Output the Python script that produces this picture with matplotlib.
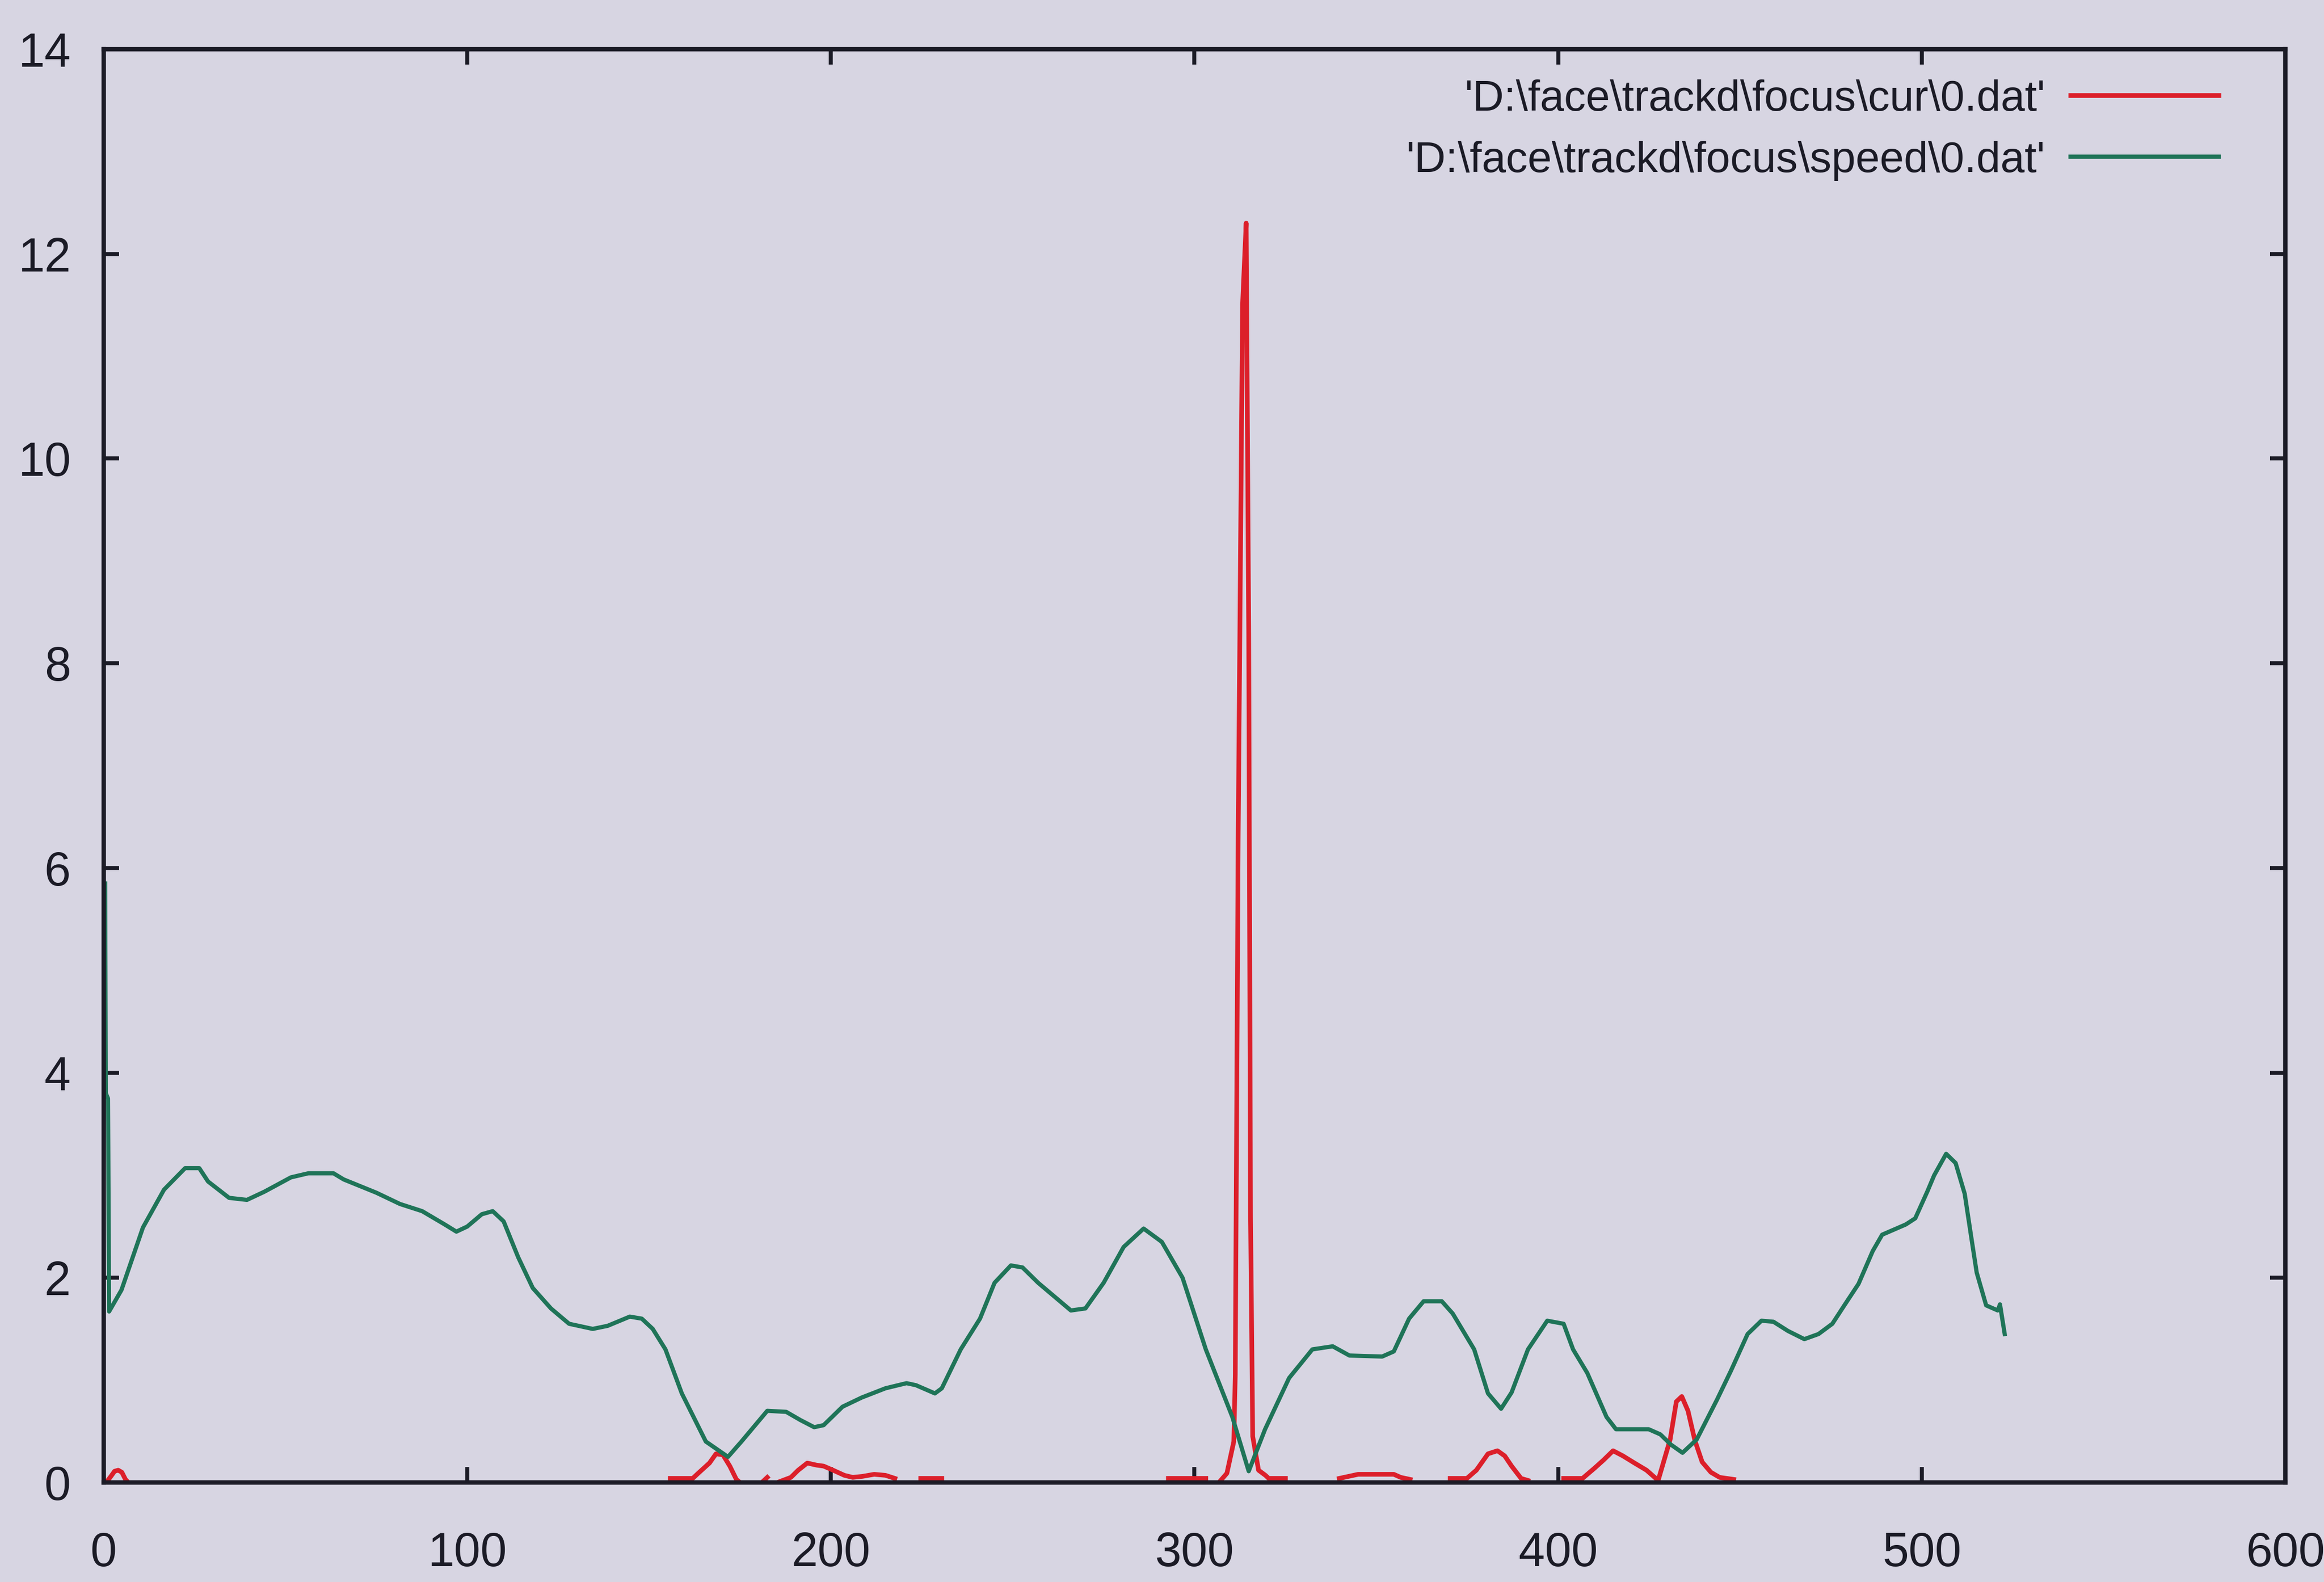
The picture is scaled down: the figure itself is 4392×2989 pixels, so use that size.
import numpy as np
import matplotlib
matplotlib.use("Agg")
import matplotlib.pyplot as plt

# ---- data ----
speed_x = [0.4, 0.6, 1.2, 1.5, 4.9, 10.8, 16.6, 22.4, 26.3, 28.7, 34.5, 39.4, 44.2, 51.5, 56.3,
           63.2, 66, 75, 81.5, 87.6, 93.8, 97, 100, 104, 107, 110, 114, 118, 123, 128, 134.5,
           138.6, 144.7, 148, 151, 154.5, 159, 165.6, 171.7, 175.4, 182.5, 187.7, 191.6, 195.4,
           198, 203.2, 208.5, 215, 220.8, 223.4, 228.6, 230.5, 235.7, 241, 245, 249.5, 252.7,
           257, 262, 266, 270, 275, 280.5, 286, 291, 296.7, 303.1, 310.4, 314.9, 319.4, 326,
           332.4, 338, 342.6, 351.6, 354.8, 359, 363, 368, 371, 376.9, 380.7, 384.3, 387.2,
           391.7, 397, 401.5, 404.1, 408, 413.3, 415.9, 424.9, 428.1, 431, 434.2, 438.1, 443.7,
           447.5, 452.1, 455.9, 459.2, 463.2, 467.7, 471.6, 475.4, 478.7, 482.6, 486.5, 489.1,
           495.6, 498.2, 501.5, 503.4, 506.7, 509.3, 511.8, 513.5, 515.1, 517.7, 520.9, 521.5,
           522.8]
speed_y = [5.85, 3.8, 3.75, 1.67, 1.88, 2.49, 2.86, 3.07, 3.07, 2.94, 2.78, 2.76, 2.84, 2.98, 3.02,
           3.02, 2.96, 2.83, 2.72, 2.65, 2.52, 2.45, 2.5, 2.62, 2.65, 2.55, 2.2, 1.9, 1.7, 1.55, 1.5,
           1.53, 1.62, 1.6, 1.5, 1.30, 0.87, 0.40, 0.25, 0.40, 0.70, 0.69, 0.61, 0.54,
           0.56, 0.74, 0.83, 0.92, 0.97, 0.95, 0.87, 0.92, 1.30, 1.6, 1.95, 2.12, 2.1,
           1.95, 1.8, 1.68, 1.7, 1.95, 2.3, 2.48, 2.35, 2.0, 1.30, 0.64, 0.11, 0.52, 1.02,
           1.30, 1.33, 1.24, 1.23, 1.28, 1.6, 1.77, 1.77, 1.65, 1.30, 0.87, 0.72, 0.88,
           1.30, 1.58, 1.55, 1.30, 1.07, 0.64, 0.52, 0.52, 0.47, 0.37, 0.29, 0.42, 0.81,
           1.09, 1.45, 1.58, 1.57, 1.48, 1.40, 1.45, 1.55, 1.73, 1.94, 2.26, 2.42,
           2.52, 2.58, 2.84, 3.0, 3.21, 3.12, 2.82, 2.42, 2.05, 1.73, 1.68, 1.74,
           1.45]

nan = float("nan")
cur_x = [0.7, 2, 3, 4, 5, 6, 6.8, nan,
         155.8, 162, 163.5, 166.6, 168.4, 170.3, 172.2, 174, 175, nan,
         181, 182.5, nan,
         186, 189, 191, 193.5, 196, 198, 200.6, 203.7, 206, 208.7, 211.9, 215, 217.6, nan,
         224.7, 230.5, nan,
         292.8, 303.1, nan,
         306.7, 308.9, 310.8, 311.2, 312.0, 313.2, 314.2, 314.9, 315.4, 316.0, 317.6, 319.5,
         320.4, 325, nan,
         339.8, 343.7, 345, 354.8, 356.7, 359.3, nan,
         370.3, 374.9, 377.5, 380.7, 383.3, 385.3, 387.2, 389.8, 391.7, nan,
         401.5, 406.7, 410, 412.5, 415.1, 417.8, 421, 424.3, 427.5, 430.8, 432.5, 434, 435.7,
         437.6, 439.6, 442, 444.4, 448.3]
cur_y = [0, 0.06, 0.11, 0.12, 0.1, 0.03, 0, nan,
         0.04, 0.04, 0.09, 0.19, 0.28, 0.27, 0.16, 0.03, 0, nan,
         0.0, 0.05, nan,
         0.01, 0.05, 0.12, 0.19, 0.17, 0.16, 0.12, 0.07, 0.05, 0.06, 0.08, 0.07, 0.04, nan,
         0.04, 0.04, nan,
         0.04, 0.04, nan,
         0, 0.09, 0.4, 1.05, 6.3, 11.5, 12.3, 8.3, 2.6, 0.45, 0.12, 0.07,
         0.04, 0.04, nan,
         0.04, 0.07, 0.08, 0.08, 0.05, 0.03, nan,
         0.04, 0.04, 0.12, 0.28, 0.31, 0.26, 0.16, 0.04, 0.02, nan,
         0.04, 0.04, 0.14, 0.22, 0.31, 0.26, 0.19, 0.12, 0.02, 0.42, 0.79, 0.84, 0.7,
         0.41, 0.2, 0.1, 0.05, 0.03]

x_ticks = [0, 100, 200, 300, 400, 500, 600]
y_ticks = [0, 2, 4, 6, 8, 10, 12, 14]
label_cur = r"'D:\face\trackd\focus\cur\0.dat'"
label_speed = r"'D:\face\trackd\focus\speed\0.dat'"

# ---- style ----
BG = "#d7d5e2"
INK = "#1b1b26"
RED = "#dc1f2a"
GREEN = "#1f7458"

plt.rcParams["font.family"] = ["Liberation Sans", "DejaVu Sans"]

fig = plt.figure(figsize=(4392 / 300, 2989 / 300), dpi=300, facecolor=BG)
ax = fig.add_axes([0.0446, 0.0629, 0.9388, 0.9061], facecolor=BG)

ax.plot(cur_x, cur_y, color=RED, lw=2.1, label=label_cur, solid_joinstyle="round")
ax.plot(speed_x, speed_y, color=GREEN, lw=1.9, label=label_speed, solid_joinstyle="round")

ax.set_xlim(0, 600)
ax.set_ylim(0, 14)
ax.set_xticks(x_ticks)
ax.set_yticks(y_ticks)

for s in ax.spines.values():
    s.set_color(INK)
    s.set_linewidth(2.0)

ax.tick_params(axis="both", which="both", direction="in", length=7, width=1.8,
               color=INK, labelcolor=INK, labelsize=21.5, top=True, right=True)
ax.tick_params(axis="x", pad=22)
ax.tick_params(axis="y", pad=15)

leg = ax.legend(loc="upper right", bbox_to_anchor=(0.9694, 0.979), frameon=False,
                markerfirst=False, handlelength=3.41, handletextpad=0.58,
                labelspacing=0.49, borderpad=0, borderaxespad=0,
                prop={"family": ["Liberation Sans", "DejaVu Sans"], "size": 19.7})
for t in leg.get_texts():
    t.set_color(INK)

fig.savefig("out.png", dpi=300, facecolor=BG)
